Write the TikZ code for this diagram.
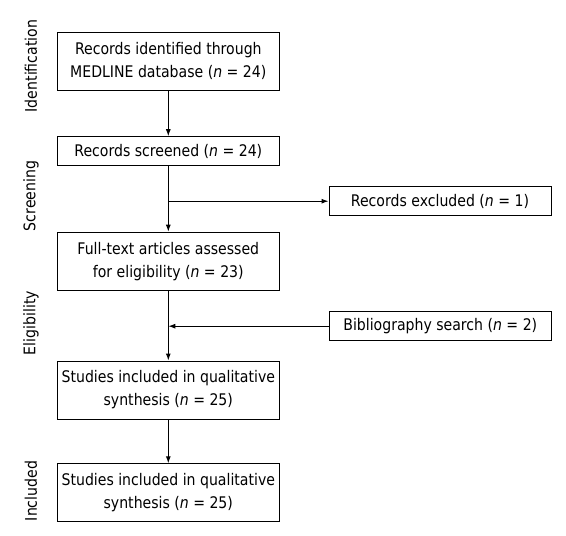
\documentclass[tikz,border=0pt]{standalone}
\usepackage{fontspec}
\setmainfont{DejaVu Sans}[FakeStretch=0.88]
\usetikzlibrary{positioning,arrows.meta}

\begin{document}
\begin{tikzpicture}[x=1pt,y=-1pt]
    % Setup the styles for the boxes
        \tikzset{box style/.style={draw,
                                   line width=1pt,
                                   minimum width=222pt,
                                   align=center,
                                   inner sep=0pt,
                                   font=\fontsize{16}{23}\selectfont},
                 tall box/.style={box style, minimum height=58pt},
                 flat box/.style={box style, minimum height=29pt},
                 stage label/.style={rotate=90,
                                     font=\fontsize{16}{18}\selectfont}}
        \useasboundingbox (0,0) rectangle (566,536);
        % Draw the stage labels
        \node[stage label] at (31,66)   (ident)    {Identification};
        \node[stage label] at (31,196)  (screen)   {Screening};
        \node[stage label] at (31,323)  (elig)     {Eligibility};
        \node[stage label] at (31,491)  (incl)     {Included};
        % Draw the boxes
        \node[tall box] at (168.3,61.2) (records)  {Records identified through\\MEDLINE database (\textit{n} = 24)};
        \node[flat box] at (168.3,151.2) (screened) {Records screened (\textit{n} = 24)};
        \node[flat box] at (440,201.2)  (excluded) {Records excluded (\textit{n} = 1)};
        \node[tall box] at (168.3,261.2) (fulltext) {Full-text articles assessed\\for eligibility (\textit{n} = 23)};
        \node[flat box] at (440.3,326.2) (biblio)   {Bibliography search (\textit{n} = 2)};
        \node[tall box] at (168.3,390)  (studies)  {Studies included in qualitative\\synthesis (\textit{n} = 25)};
        \node[tall box] at (168.3,492.8) (included) {Studies included in qualitative\\synthesis (\textit{n} = 25)};
        % Connect the boxes with arrows
        \draw[line width=1pt, >={Latex[length=7pt,width=5pt]}]
            (records)  edge[->] (screened)
            (screened) edge[->] (fulltext)
            (screened |- excluded.west) edge[->] (excluded.west)
            (biblio.west) edge[->] (fulltext |- biblio.west)
            (fulltext) edge[->] (studies)
            (studies)  edge[->] (included);
\end{tikzpicture}
\end{document}
